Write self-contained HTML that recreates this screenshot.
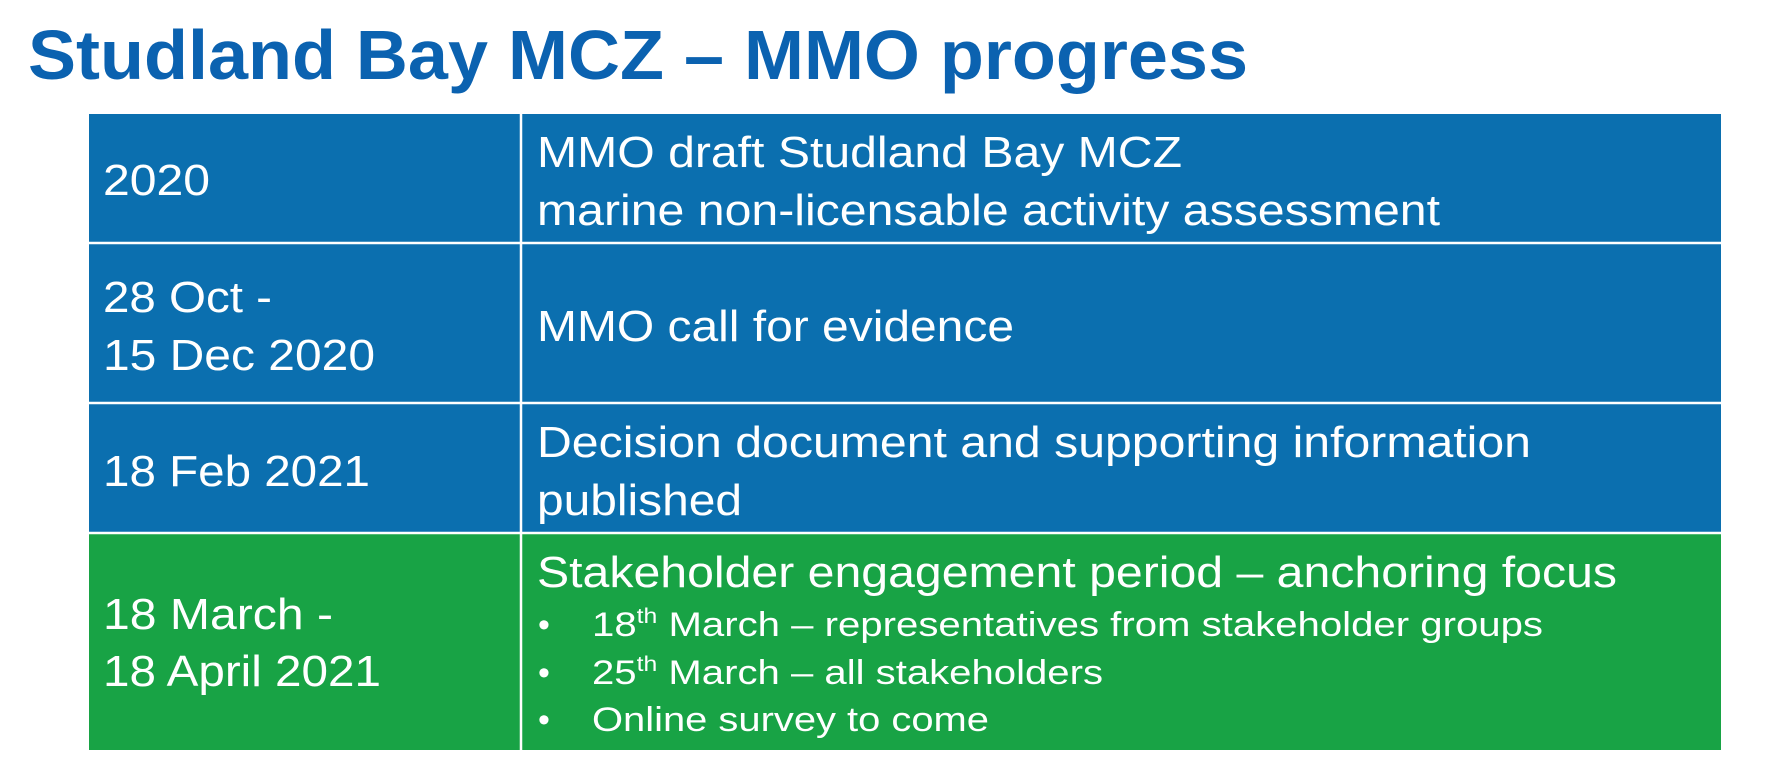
<!DOCTYPE html>
<html><head><meta charset="utf-8"><style>
html,body{margin:0;padding:0;background:#fff;width:1773px;height:781px;overflow:hidden}
svg{display:block}
text{font-family:"Liberation Sans",Arial,sans-serif;fill:#fff}
</style></head><body>
<svg width="1773" height="781" viewBox="0 0 1773 781">
<text x="28" y="79" font-size="70" font-weight="bold" style="fill:#0b62b0" textLength="1220" lengthAdjust="spacingAndGlyphs">Studland Bay MCZ – MMO progress</text>
<g>
<rect x="89" y="114" width="1632" height="129" fill="#0b6faf"/>
<rect x="89" y="243" width="1632" height="160" fill="#0b6faf"/>
<rect x="89" y="403" width="1632" height="130" fill="#0b6faf"/>
<rect x="89" y="533" width="1632" height="217" fill="#18a345"/>
<g stroke="#fff" stroke-width="2.5">
<line x1="89" y1="243" x2="1721" y2="243"/>
<line x1="89" y1="403" x2="1721" y2="403"/>
<line x1="89" y1="533" x2="1721" y2="533"/>
<line x1="521" y1="114" x2="521" y2="750"/>
</g>
<g font-size="44">
<text x="103" y="195" textLength="107" lengthAdjust="spacingAndGlyphs">2020</text>
<text x="537" y="167" textLength="645" lengthAdjust="spacingAndGlyphs">MMO draft Studland Bay MCZ</text>
<text x="537" y="225" textLength="903" lengthAdjust="spacingAndGlyphs">marine non-licensable activity assessment</text>
<text x="103" y="312" textLength="169" lengthAdjust="spacingAndGlyphs">28 Oct -</text>
<text x="103" y="370" textLength="272" lengthAdjust="spacingAndGlyphs">15 Dec 2020</text>
<text x="537" y="341" textLength="477" lengthAdjust="spacingAndGlyphs">MMO call for evidence</text>
<text x="103" y="486" textLength="267" lengthAdjust="spacingAndGlyphs">18 Feb 2021</text>
<text x="537" y="457" textLength="994" lengthAdjust="spacingAndGlyphs">Decision document and supporting information</text>
<text x="537" y="515" textLength="205" lengthAdjust="spacingAndGlyphs">published</text>
<text x="103" y="629" textLength="230" lengthAdjust="spacingAndGlyphs">18 March -</text>
<text x="103" y="686" textLength="278" lengthAdjust="spacingAndGlyphs">18 April 2021</text>
<text x="537" y="587" textLength="1080" lengthAdjust="spacingAndGlyphs">Stakeholder engagement period – anchoring focus</text>
</g>
<g font-size="34">
<text x="538" y="636">•</text>
<text x="592" y="636" textLength="951" lengthAdjust="spacingAndGlyphs">18<tspan font-size="21" dy="-13">th</tspan><tspan dy="13"> March – representatives from stakeholder groups</tspan></text>
<text x="538" y="684">•</text>
<text x="592" y="684" textLength="511" lengthAdjust="spacingAndGlyphs">25<tspan font-size="21" dy="-13">th</tspan><tspan dy="13"> March – all stakeholders</tspan></text>
<text x="538" y="731">•</text>
<text x="592" y="731" textLength="397" lengthAdjust="spacingAndGlyphs">Online survey to come</text>
</g>
</g>
</svg>
</body></html>
